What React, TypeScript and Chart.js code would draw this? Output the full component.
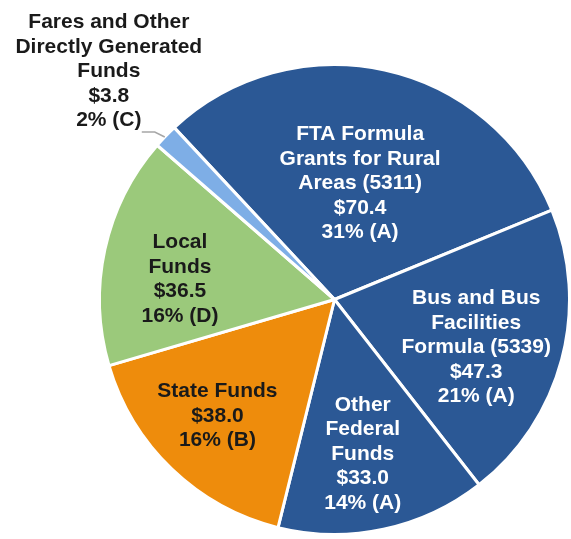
import React, { useEffect, useRef } from 'react';
import { Chart, ArcElement, PieController } from 'chart.js';

Chart.register(ArcElement, PieController);

const categories = [
  'FTA Formula Grants for Rural Areas (5311)',
  'Bus and Bus Facilities Formula (5339)',
  'Other Federal Funds',
  'State Funds',
  'Local Funds',
  'Fares and Other Directly Generated Funds',
];
const labelLines = [
  ['FTA Formula', 'Grants for Rural', 'Areas (5311)'],
  ['Bus and Bus', 'Facilities', 'Formula (5339)'],
  ['Other', 'Federal', 'Funds'],
  ['State Funds'],
  ['Local', 'Funds'],
  ['Fares and Other', 'Directly Generated', 'Funds'],
];
const values = [70.4, 47.3, 33.0, 38.0, 36.5, 3.8];
const percentLabels = ['31% (A)', '21% (A)', '14% (A)', '16% (B)', '16% (D)', '2% (C)'];

const colors = ['#2B5895', '#2B5895', '#2B5895', '#EE8C0C', '#9BC97B', '#7EAEE6'];
const textColors = ['#ffffff', '#ffffff', '#ffffff', '#1a1a1a', '#1a1a1a', '#1a1a1a'];
// label placement: fraction of radius, angle offset (deg) from slice middle
const labelRadius = [0.51, 0.635, 0.664, 0.7, 0.664, 1.368];
const labelAngleOffset = [0, 3.4, 1.6, 1.6, -4.4, 1.4];

const FONT = 'bold 21px "Liberation Sans", Arial, sans-serif';
const LINE_H = 24.5;

const labelPlugin = {
  id: 'sliceLabels',
  afterDatasetsDraw(chart: any) {
    const ctx = chart.ctx;
    const meta = chart.getDatasetMeta(0);
    ctx.save();
    ctx.font = FONT;
    ctx.textAlign = 'center';
    ctx.textBaseline = 'middle';
    meta.data.forEach((arc: any, i: number) => {
      const R = arc.outerRadius;
      const mid = (arc.startAngle + arc.endAngle) / 2;
      const a = mid + (labelAngleOffset[i] * Math.PI) / 180;
      const r = R * labelRadius[i];
      const cx = arc.x + Math.cos(a) * r;
      const cy = arc.y + Math.sin(a) * r + 1;
      const lines = [...labelLines[i], '$' + values[i].toFixed(1), percentLabels[i]];
      const n = lines.length;
      ctx.fillStyle = textColors[i];
      lines.forEach((t, k) => {
        ctx.fillText(t, cx, cy + (k - (n - 1) / 2) * LINE_H);
      });
      if (labelRadius[i] > 1) {
        // leader line
        const p0x = arc.x + Math.cos(mid) * (R + 1);
        const p0y = arc.y + Math.sin(mid) * (R + 1) + 1.5;
        ctx.strokeStyle = '#A6A6A6';
        ctx.lineWidth = 1.5;
        ctx.beginPath();
        ctx.moveTo(p0x, p0y);
        ctx.lineTo(p0x - 10, p0y - 5);
        ctx.lineTo(p0x - 23, p0y - 5);
        ctx.stroke();
      }
    });
    ctx.restore();
  },
};

export default function App() {
  const ref = useRef<HTMLCanvasElement>(null);
  useEffect(() => {
    document.body.style.margin = '0';
    const chart = new Chart(ref.current!, {
      type: 'pie',
      data: {
        labels: categories,
        datasets: [
          {
            data: values,
            backgroundColor: colors,
            borderColor: '#ffffff',
            borderWidth: 3,
          },
        ],
      },
      options: {
        responsive: false,
        animation: false,
        rotation: -43,
        layout: { padding: { left: 98, right: 0, top: 62, bottom: 2 } },
        plugins: { legend: { display: false }, tooltip: { enabled: false } },
      },
      plugins: [labelPlugin],
    });
    return () => chart.destroy();
  }, []);
  return (
    <div style={{ width: 571, height: 539, background: '#fff' }}>
      <canvas ref={ref} width={571} height={539} style={{ display: 'block' }} />
    </div>
  );
}
